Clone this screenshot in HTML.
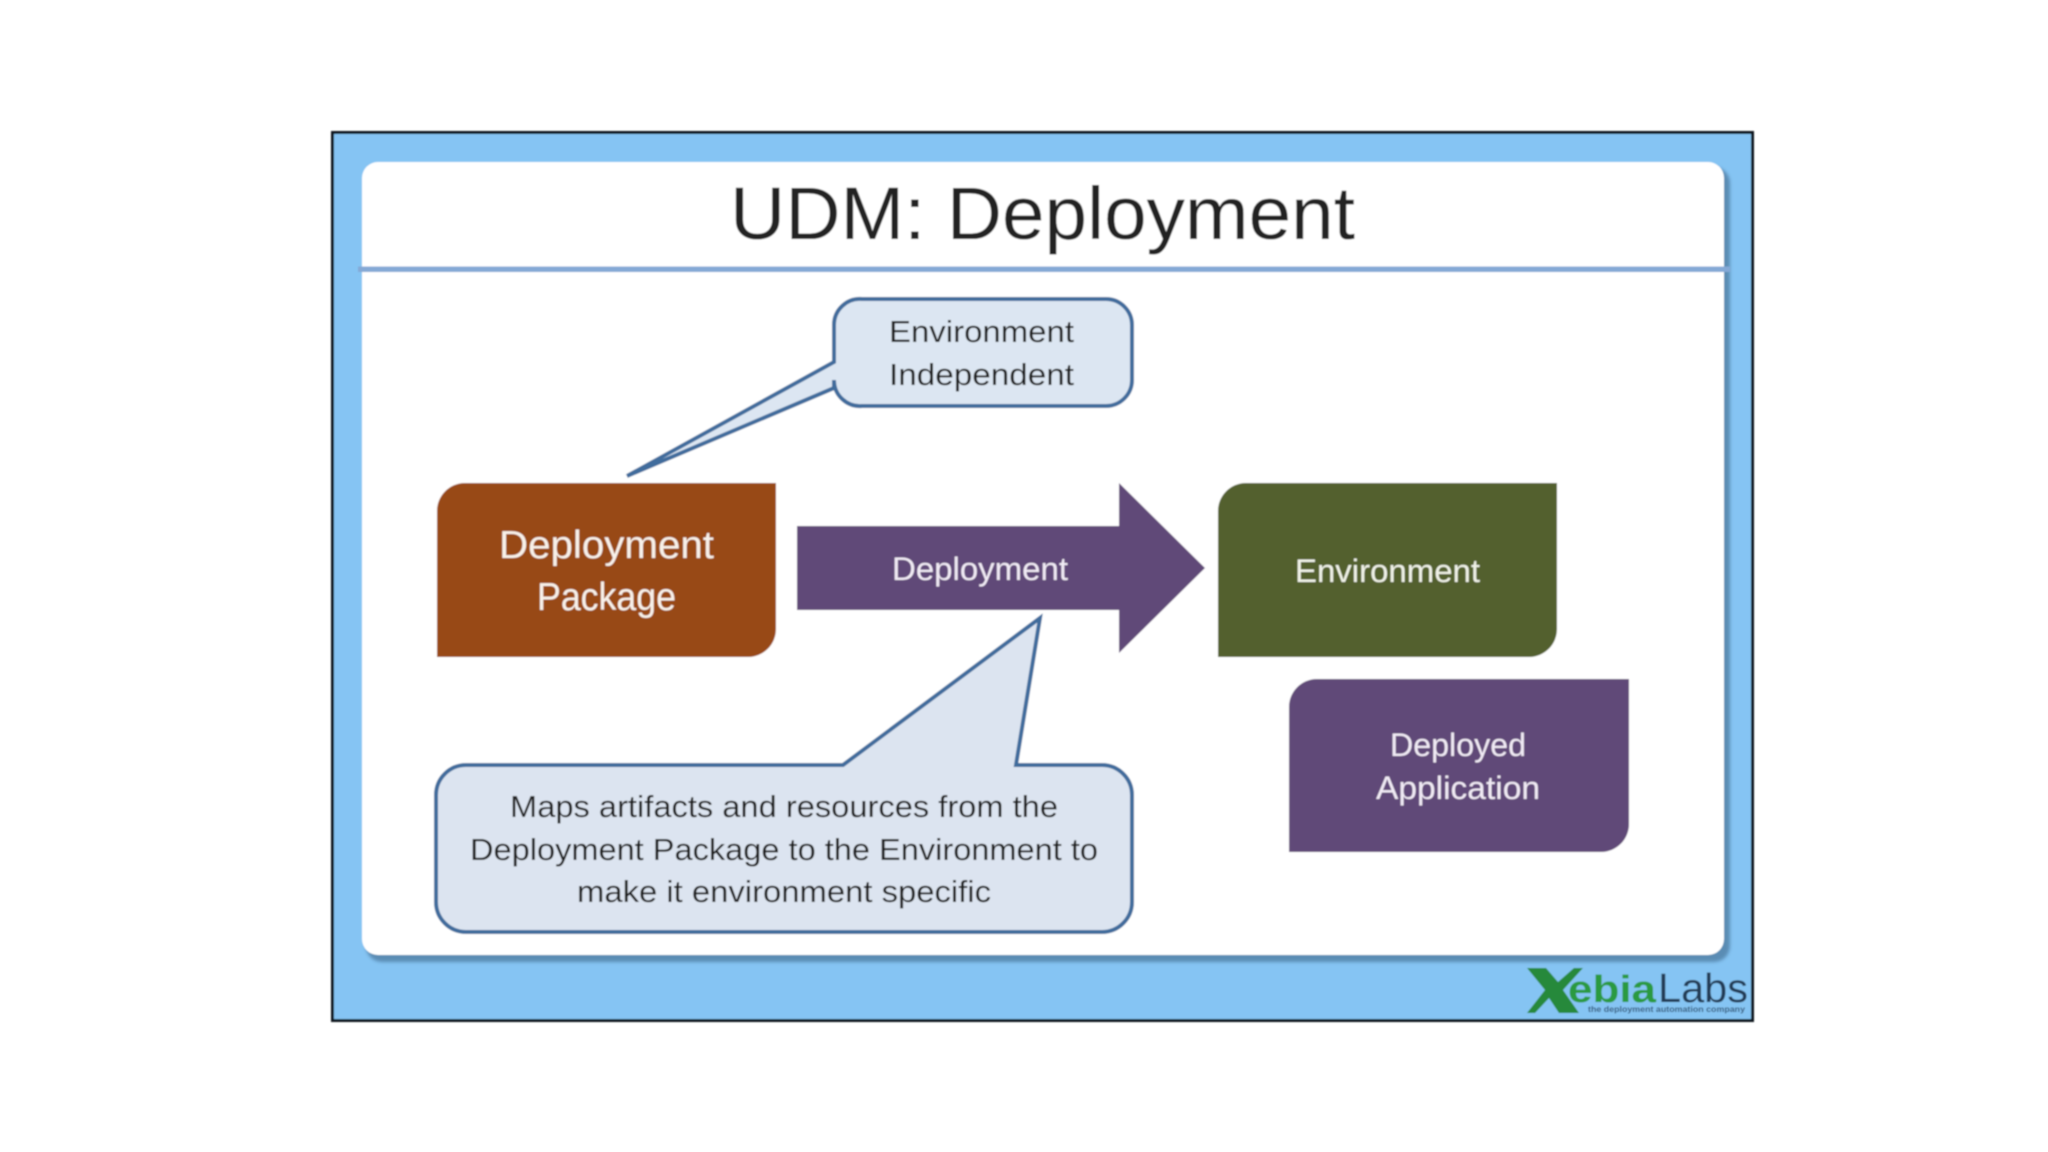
<!DOCTYPE html>
<html><head><meta charset="utf-8"><style>
html,body{margin:0;padding:0;width:2048px;height:1152px;background:#fff;overflow:hidden}
svg{display:block}
text{font-family:"Liberation Sans",sans-serif;text-anchor:start}
</style></head><body>
<svg width="2048" height="1152" viewBox="0 0 2048 1152" xmlns="http://www.w3.org/2000/svg">
<defs>
<filter id="b" x="-2%" y="-2%" width="104%" height="104%"><feGaussianBlur stdDeviation="0.7"/></filter>
<filter id="s" x="-5%" y="-5%" width="110%" height="110%"><feGaussianBlur stdDeviation="1.5"/></filter>
</defs>
<g filter="url(#b)">
<rect x="332.5" y="132.5" width="1420" height="888" fill="#85c4f3" stroke="#10181f" stroke-width="3"/>
<rect x="366" y="167" width="1364" height="795" rx="16" fill="#5a8cb4" filter="url(#s)"/>
<rect x="362" y="162" width="1362" height="793" rx="16" fill="#fff"/>
<rect x="358" y="266.5" width="1372" height="5.5" fill="#84a9d6"/>

<path d="M862 299H1106a26 26 0 0 1 26 26V380a26 26 0 0 1 -26 26H862a26 26 0 0 1 -28 -26V388L627 476L834 362V325a26 26 0 0 1 28 -26Z" fill="#dce6f2" stroke="#3f6c9c" stroke-width="4"/>

<path d="M437 511a28 28 0 0 1 28 -28H776V629a28 28 0 0 1 -28 28H437Z" fill="#984817"/>
<path d="M797 526H1119V483L1205 568L1119 653V610H797Z" fill="#604a78"/>
<path d="M1218 511a28 28 0 0 1 28 -28H1557V629a28 28 0 0 1 -28 28H1218Z" fill="#52602d"/>
<path d="M1289 707a28 28 0 0 1 28 -28H1629V824a28 28 0 0 1 -28 28H1289Z" fill="#604a78"/>

<path d="M466 765H843L1040 618L1016 765H1102a30 30 0 0 1 30 30V902a30 30 0 0 1 -30 30H466a30 30 0 0 1 -30 -30V795a30 30 0 0 1 30 -30Z" fill="#dce4f0" stroke="#3f6c9c" stroke-width="4"/>

<text x="730" y="239" font-size="74" textLength="625" lengthAdjust="spacingAndGlyphs" fill="#222">UDM: Deployment</text>

<text x="889" y="342" font-size="31" textLength="185" lengthAdjust="spacingAndGlyphs" fill="#1c1c1c">Environment</text>
<text x="889" y="385" font-size="31" textLength="185" lengthAdjust="spacingAndGlyphs" fill="#1c1c1c">Independent</text>

<text x="499" y="558" font-size="39" textLength="215" lengthAdjust="spacingAndGlyphs" fill="#f8f1ea">Deployment</text>
<text x="537" y="610" font-size="39" textLength="139" lengthAdjust="spacingAndGlyphs" fill="#f8f1ea">Package</text>

<text x="892" y="580" font-size="32" textLength="176" lengthAdjust="spacingAndGlyphs" fill="#f1ebf5">Deployment</text>
<text x="1295" y="582" font-size="32" textLength="185" lengthAdjust="spacingAndGlyphs" fill="#f0f2e8">Environment</text>
<text x="1390" y="756" font-size="32" textLength="136" lengthAdjust="spacingAndGlyphs" fill="#f1ebf5">Deployed</text>
<text x="1376" y="799" font-size="32" textLength="164" lengthAdjust="spacingAndGlyphs" fill="#f1ebf5">Application</text>

<text x="510" y="817" font-size="31" textLength="548" lengthAdjust="spacingAndGlyphs" fill="#1c1c1c">Maps artifacts and resources from the</text>
<text x="470" y="860" font-size="31" textLength="628" lengthAdjust="spacingAndGlyphs" fill="#1c1c1c">Deployment Package to the Environment to</text>
<text x="577" y="902" font-size="31" textLength="414" lengthAdjust="spacingAndGlyphs" fill="#1c1c1c">make it environment specific</text>

<path d="M1527 968H1546L1558 982L1574 968H1583L1563 990L1579 1013H1559L1549 998L1535 1013H1527L1545 990Z" fill="#27893a"/>
<text x="1568" y="1002" font-size="38" font-weight="bold" textLength="88" lengthAdjust="spacingAndGlyphs" fill="#2b9a3f">ebia</text>
<text x="1658" y="1002" font-size="41" textLength="90" lengthAdjust="spacingAndGlyphs" fill="#233a55">Labs</text>
<text x="1588" y="1012" font-size="8" font-weight="bold" textLength="157" lengthAdjust="spacingAndGlyphs" fill="#33597a">the deployment automation company</text>
</g>
</svg>
</body></html>
